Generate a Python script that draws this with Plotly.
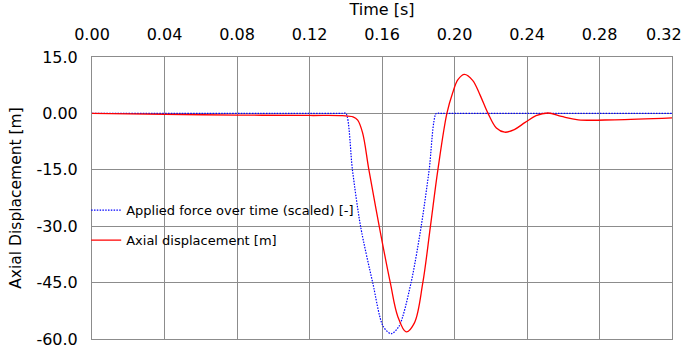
import plotly.graph_objects as go

# Applied force over time (scaled) [-]
force_t = [0.0, 0.10, 0.138, 0.1401, 0.1437, 0.1482, 0.1549, 0.1606, 0.1650,
           0.1694, 0.1760, 0.1816, 0.1860, 0.1899, 0.192, 0.25, 0.32]
force_v = [0.0, 0.0, 0.0, 0.0, -15.1, -30.1, -45.1, -56.6, -58.6,
           -56.6, -45.1, -30.1, -15.1, 0.0, 0.0, 0.0, 0.0]

# Axial displacement [m]
disp_t = [0.0, 0.04, 0.08, 0.12, 0.1380, 0.1440, 0.1466, 0.1493, 0.1528,
          0.1585, 0.1646, 0.1687, 0.1733, 0.1779, 0.1825, 0.1867, 0.1908,
          0.1958, 0.1990, 0.2019, 0.2055, 0.2100, 0.2140, 0.2185, 0.2231,
          0.2277, 0.2330, 0.2390, 0.2450, 0.2517, 0.2590, 0.2683, 0.2885, 0.32]
disp_v = [0.0, -0.25, -0.45, -0.55, -0.6, -0.9, -1.8, -5.2, -15.1,
          -30.1, -45.1, -54.0, -58.1, -55.7, -45.1, -30.1, -15.1,
          0.0, 5.5, 9.0, 10.4, 8.8, 5.0, 0.0, -3.9,
          -5.0, -4.3, -2.4, -0.6, 0.1, -0.8, -1.7, -1.7, -1.2]

x_ticks = [0.0, 0.04, 0.08, 0.12, 0.16, 0.20, 0.24, 0.28, 0.32]
x_ticktext = ["0.00", "0.04", "0.08", "0.12", "0.16", "0.20", "0.24", "0.28", ""]
x_last_label = "0.32"
y_ticks = [15, 0, -15, -30, -45, -60]
y_ticktext = ["15.0", "0.00", "-15.0", "-30.0", "-45.0", "-60.0"]

FONT = "DejaVu Sans"
GRID = "#8c8c8c"

fig = go.Figure()
fig.add_trace(go.Scatter(
    x=force_t, y=force_v, mode="lines", name="Applied force over time (scaled) [-]",
    line=dict(color="#0000ff", width=1.2, dash="1.5px,1.3px", shape="spline", smoothing=0.8),
    legendgroup="a"))
fig.add_trace(go.Scatter(
    x=disp_t, y=disp_v, mode="lines", name="Axial displacement [m]",
    line=dict(color="#ff0000", width=1.3, shape="spline", smoothing=1.0),
    legendgroup="b"))

# last top tick label kept inside the page, like the reference
fig.add_annotation(x=x_ticks[-1], xref="x", y=1, yref="paper", text=x_last_label,
                   showarrow=False, xanchor="right", yanchor="middle",
                   xshift=12, yshift=23, font=dict(family=FONT, size=16, color="#000000"))

fig.update_layout(
    width=688, height=349,
    margin=dict(l=92, r=16, t=57, b=10),
    paper_bgcolor="white", plot_bgcolor="white",
    font=dict(family=FONT, size=16, color="#000000"),
    showlegend=True,
    legend=dict(x=-0.01, y=0.51, xanchor="left", yanchor="top",
                bgcolor="rgba(0,0,0,0)", font=dict(family=FONT, size=13, color="#000000"),
                tracegroupgap=10, traceorder="grouped"),
    xaxis=dict(
        side="top", range=[0, 0.32], tickvals=x_ticks, ticktext=x_ticktext,
        title=dict(text="Time [s]", font=dict(family=FONT, size=16), standoff=8),
        showgrid=True, gridcolor=GRID, gridwidth=1,
        showline=True, linecolor=GRID, linewidth=1, mirror=True,
        zeroline=False, ticks="", ticklabelstandoff=10,
        ticklabeloverflow="allow", automargin=False),
    yaxis=dict(
        range=[-60, 15], tickvals=y_ticks, ticktext=y_ticktext,
        title=dict(text="Axial Displacement [m]", font=dict(family=FONT, size=15.5), standoff=10),
        showgrid=True, gridcolor=GRID, gridwidth=1,
        showline=True, linecolor=GRID, linewidth=1, mirror=True,
        zeroline=False, ticks="", ticklabelstandoff=10,
        ticklabeloverflow="allow", automargin=False),
)

fig.write_html("out.html", config={"displayModeBar": False},
               post_script="document.body.style.margin='0';document.body.style.overflow='hidden';")
